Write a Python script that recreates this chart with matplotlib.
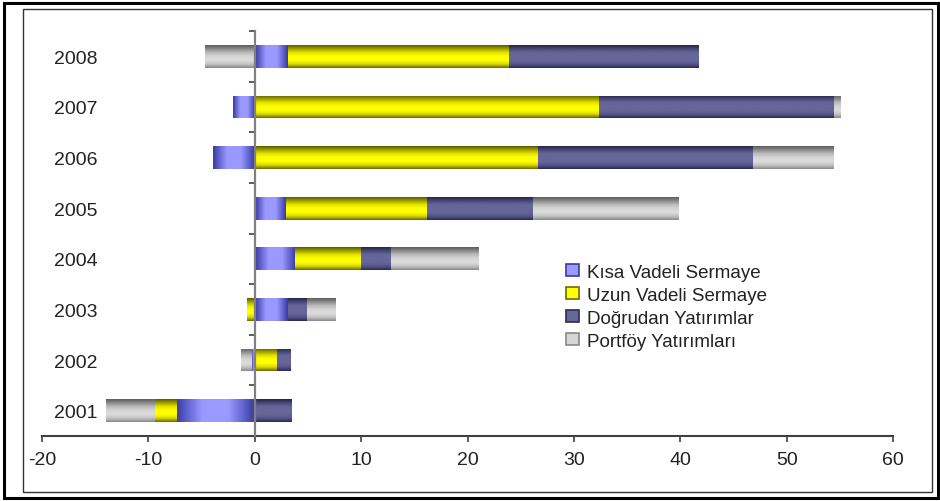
import matplotlib.pyplot as plt
import numpy as np
from matplotlib.colors import LinearSegmentedColormap
from matplotlib.patches import Patch, Rectangle

plt.rcParams['font.family'] = ['Liberation Sans', 'DejaVu Sans']
plt.rcParams['axes.unicode_minus'] = False

years = ['2001', '2002', '2003', '2004', '2005', '2006', '2007', '2008']
kisa = [-7.4, -0.3, 3.1, 3.8, 2.9, -3.9, -2.0, 3.1]
uzun = [-2.0, 2.1, -0.7, 6.2, 13.3, 26.6, 32.4, 20.8]
dogrudan = [3.4, 1.3, 1.8, 2.8, 10.0, 20.2, 22.1, 17.8]
portfoy = [-4.6, -1.0, 2.7, 8.2, 13.7, 7.6, 0.6, -4.7]

series = [
    ('Kısa Vadeli Sermaye', kisa, ['#3a3aa0', '#6b6bd6', '#9999ff', '#9999ff', '#9999ff', '#6b6bd6', '#3a3aa0'], 'h'),
    ('Uzun Vadeli Sermaye', uzun, ['#6b6b00', '#d9d900', '#ffff00', '#ffff00', '#e6e600', '#a3a300', '#5c5c00'], 'v'),
    ('Doğrudan Yatırımlar', dogrudan, ['#2a2a55', '#55558a', '#666699', '#666699', '#666699', '#4a4a7a', '#262648'], 'v'),
    ('Portföy Yatırımları', portfoy, ['#8a8a8a', '#c4c4c4', '#dcdcdc', '#d6d6d6', '#bdbdbd', '#8c8c8c', '#5e5e5e'], 'v'),
]

fig = plt.figure(figsize=(9.4, 5.02), dpi=100)
ax = fig.add_axes([42 / 940, 1 - 437 / 502, (893 - 42) / 940, (437 - 32) / 502])

y = np.arange(len(years))
pos_left = np.zeros(len(years))
neg_left = np.zeros(len(years))
handles = []
for name, vals, cols, direction in series:
    vals = np.array(vals)
    left = np.where(vals >= 0, pos_left, neg_left)
    bars = ax.barh(y, vals, left=left, height=0.45, color=cols[3], zorder=2)
    cmap = LinearSegmentedColormap.from_list(name, cols)
    grad = np.linspace(0, 1, 64)
    grad = grad.reshape(1, -1) if direction == 'h' else grad.reshape(-1, 1)
    for p in bars:
        x0, w = p.get_x(), p.get_width()
        y0, h = p.get_y(), p.get_height()
        if w == 0:
            continue
        im = ax.imshow(grad, cmap=cmap, aspect='auto', interpolation='bilinear',
                       extent=(min(x0, x0 + w), max(x0, x0 + w), y0 + h, y0), zorder=3)
        im.set_clip_path(p)
    pos_left += np.where(vals >= 0, vals, 0)
    neg_left += np.where(vals < 0, vals, 0)
    handles.append(Patch(facecolor=cols[3], edgecolor=cols[0], linewidth=1.2, label=name))

ax.set_xlim(-20, 60)
ax.set_ylim(-0.5, 7.5)
ax.set_xticks(np.arange(-20, 61, 10))
ax.tick_params(axis='x', direction='out', length=4, width=1.2, color='#404040',
               labelsize=14, labelcolor='#222222', pad=7)

ax.spines['left'].set_position(('data', 0))
ax.spines['left'].set_color('#808080')
ax.spines['left'].set_linewidth(1.6)
ax.spines['left'].set_zorder(4)
ax.spines['bottom'].set_color('#404040')
ax.spines['bottom'].set_linewidth(1.5)
ax.spines['top'].set_visible(False)
ax.spines['right'].set_visible(False)

ax.set_yticks(y)
ax.set_yticklabels(years)
ax.set_yticks(np.arange(-0.5, 7.6, 1), minor=True)
ax.tick_params(axis='y', which='major', length=0, labelsize=14, labelcolor='#222222', pad=113)
ax.tick_params(axis='y', which='minor', direction='out', length=4, width=1.2, color='#404040')

fig.legend(handles=handles, loc='upper left', bbox_to_anchor=(549 / 940, 1 - 248 / 502),
           frameon=False, fontsize=13.5, handlelength=0.7, handleheight=0.6,
           handletextpad=0.45, labelspacing=0.32, labelcolor='#222222')

fig.add_artist(Rectangle((23 / 940, 1 - 493 / 502), (932 - 23) / 940, (493 - 10) / 502,
                         transform=fig.transFigure, fill=False, edgecolor='#333333', linewidth=1.0))
fig.add_artist(Rectangle((4 / 940, 1 - 499 / 502), (938 - 4) / 940, (499 - 4) / 502,
                         transform=fig.transFigure, fill=False, edgecolor='black', linewidth=2.2))

fig.savefig('out.png', dpi=100)
